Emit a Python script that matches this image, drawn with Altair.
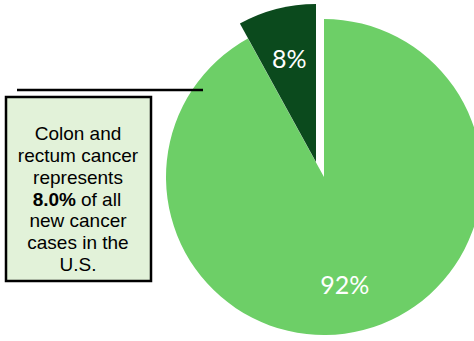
import altair as alt
import pandas as pd

categories = ["Other cancers", "Colon and rectum"]
values = [92, 8]
labels = ["92%", "8%"]
colors = ["#6DCF67", "#0B4A1D"]

note_lines = ["Colon and", "rectum cancer", "represents", "", "new cancer", "cases in the", "U.S."]
bold_part = "8.0%"
rest_part = "of all"

df = pd.DataFrame({"cat": categories, "value": values, "label": labels, "order": [0, 1]})

theta_scale = alt.Scale(domain=[0, 100], range=[0, 6.283185307])

base = alt.Chart(df).transform_stack(
    stack="value", groupby=[], as_=["v0", "v1"], sort=[alt.SortField("order")]
).transform_calculate(mid="(datum.v0 + datum.v1) / 2")

def slice_layer(cat, cx, cy, r, color, dx, dy):
    sub = base.transform_filter(alt.datum.cat == cat)
    arc = sub.mark_arc(color=color).encode(
        theta=alt.Theta("v0:Q", scale=theta_scale),
        theta2="v1:Q",
        x=alt.value(cx), y=alt.value(cy),
        radius=alt.value(r),
    )
    txt = sub.mark_text(color="white", fontSize=25, font="Lato", dx=dx, dy=dy).encode(
        theta=alt.Theta("mid:Q", scale=theta_scale),
        x=alt.value(cx), y=alt.value(cy),
        radius=alt.value(108),
        text="label:N",
    )
    return [arc, txt]

layers = []
layers += slice_layer(categories[0], 324, 177, 158, colors[0], -6, 4)
layers += slice_layer(categories[1], 316, 162, 158, colors[1], 0, 3)

ann = alt.Chart(pd.DataFrame({"a": [0]}))
line = ann.mark_rule(color="black", strokeWidth=2.5).encode(
    x=alt.value(17), x2=alt.value(203), y=alt.value(90)
)
box = ann.mark_rect(fill="#E2F2D9", stroke="black", strokeWidth=2.5).encode(
    x=alt.value(6), x2=alt.value(151), y=alt.value(97), y2=alt.value(281)
)

ldf = pd.DataFrame({"row": list(range(len(note_lines))), "t": note_lines})
row_scale = alt.Scale(domain=[0, 6], range=[134, 265])
fs = 19
lines_txt = alt.Chart(ldf).mark_text(fontSize=fs, font="Liberation Sans", color="black", baseline="middle").encode(
    x=alt.value(78),
    y=alt.Y("row:Q", scale=row_scale, axis=None),
    text="t:N",
)
bdf = pd.DataFrame({"row": [3], "b": [bold_part], "r": [rest_part]})
bold_txt = alt.Chart(bdf).mark_text(fontSize=fs, font="Liberation Sans", fontWeight="bold", align="right", baseline="middle", color="black").encode(
    x=alt.value(76), y=alt.Y("row:Q", scale=row_scale, axis=None), text="b:N"
)
rest_txt = alt.Chart(bdf).mark_text(fontSize=fs, font="Liberation Sans", align="left", baseline="middle", color="black").encode(
    x=alt.value(81), y=alt.Y("row:Q", scale=row_scale, axis=None), text="r:N"
)

chart = alt.layer(*layers, line, box, lines_txt, bold_txt, rest_txt).resolve_scale(
    theta="shared", y="shared"
).properties(
    width=474, height=341, padding=0, autosize=alt.AutoSizeParams(type="none"),
    background="white"
).configure_view(stroke=None)

chart.save("out.html", embed_options={"renderer": "svg", "actions": False})
